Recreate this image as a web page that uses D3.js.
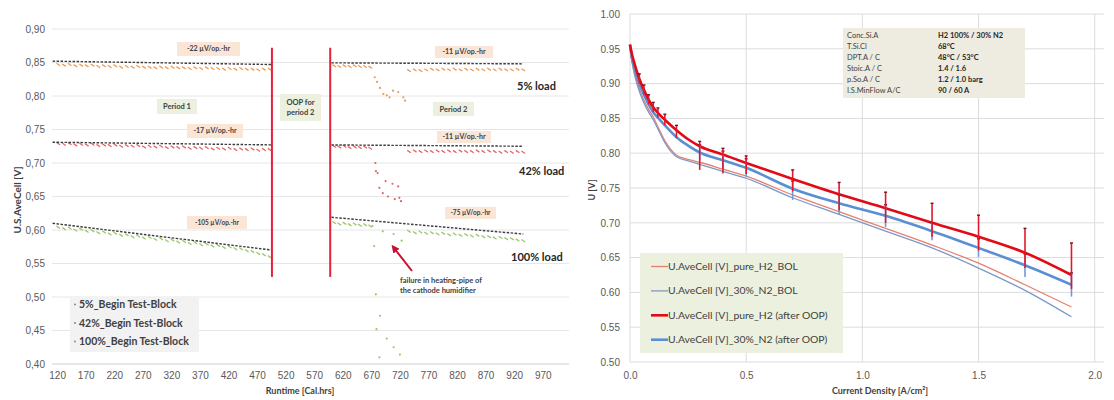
<!DOCTYPE html>
<html>
<head>
<meta charset="utf-8">
<script src="https://cdn.jsdelivr.net/npm/d3@7"></script>
<style>
body { margin: 0; background: #fff; }
svg { font-family: Lato, "Open Sans", sans-serif; }
</style>
</head>
<body>
<svg id="chart" width="1114" height="400"></svg>
<script>
// ---- left chart: runtime test ----
var leftXTicks = [120,170,220,270,320,370,420,470,520,570,620,670,720,770,820,870,920,970];
var leftYTicks = [0.40,0.45,0.50,0.55,0.60,0.65,0.70,0.75,0.80,0.85,0.90];

var p1Hours = [122,132,142,152,162,172,182,192,202,212,222,232,242,252,262,272,282,292,302,312,
               322,332,342,352,362,372,382,392,402,412,422,432,442,452,462,472,482,492];
var p1Load5 = [0.847,0.846,0.847,0.845,0.846,0.845,0.846,0.844,0.845,0.844,
               0.845,0.843,0.844,0.843,0.844,0.843,0.843,0.842,0.843,0.842,
               0.843,0.842,0.842,0.841,0.842,0.841,0.842,0.841,0.841,0.840,
               0.841,0.840,0.841,0.840,0.840,0.839,0.840,0.840];
var p1Load42 = [0.729,0.728,0.729,0.727,0.728,0.727,0.728,0.726,0.727,0.726,
                0.727,0.725,0.726,0.725,0.726,0.724,0.725,0.724,0.725,0.723,
                0.724,0.723,0.724,0.722,0.723,0.722,0.723,0.721,0.722,0.721,
                0.722,0.720,0.721,0.720,0.721,0.719,0.720,0.720];
var p1Load100 = [0.604,0.602,0.603,0.600,0.601,0.598,0.599,0.596,0.597,0.594,
                 0.595,0.592,0.593,0.590,0.591,0.588,0.589,0.586,0.587,0.584,
                 0.585,0.582,0.583,0.580,0.581,0.578,0.579,0.576,0.577,0.574,
                 0.575,0.572,0.572,0.569,0.568,0.565,0.563,0.560];

var p2aHours = [605,614,623,632,641,650,659,668];
var p2aLoad5 = [0.845,0.844,0.845,0.844,0.845,0.844,0.844,0.843];
var p2aLoad42 = [0.725,0.724,0.725,0.723,0.724,0.723,0.724,0.722];
var p2aLoad100 = [0.611,0.609,0.610,0.608,0.609,0.607,0.608,0.606];

var p2bHours = [736,746,756,766,776,786,796,806,816,826,836,846,856,866,876,886,896,906,916,926,936];
var p2bLoad5 = [0.838,0.839,0.838,0.839,0.840,0.839,0.840,0.839,0.840,0.839,0.840,
                0.839,0.840,0.839,0.840,0.839,0.840,0.839,0.839,0.840,0.839];
var p2bLoad42 = [0.717,0.718,0.717,0.718,0.717,0.718,0.717,0.718,0.717,0.718,0.717,
                 0.717,0.718,0.717,0.718,0.717,0.716,0.717,0.716,0.717,0.716];
var p2bLoad100 = [0.598,0.596,0.597,0.595,0.596,0.594,0.595,0.593,0.594,0.592,0.593,
                  0.591,0.592,0.590,0.590,0.588,0.589,0.587,0.587,0.585,0.584];

// points during the humidifier failure
var fail5 = [[676,0.828],[680,0.821],[685,0.812],[691,0.803],[697,0.801],[702,0.798],
             [708,0.808],[717,0.806],[726,0.798],[729,0.793]];
var fail42 = [[677,0.700],[678,0.688],[681,0.685],[695,0.673],[707,0.669],[717,0.665],
              [684,0.663],[690,0.655],[699,0.650],[711,0.646],[722,0.643],[719,0.648]];
var fail100 = [[675,0.576],[678,0.504],[685,0.472],[679,0.452],[697,0.438],[709,0.425],
               [720,0.414],[684,0.410],[690,0.598],[709,0.594],[723,0.584],[672,0.606]];

var trendP1Hours = [112, 496];
var trendP2Hours = [600, 936];
var trendP1 = [[0.852,0.847],[0.731,0.727],[0.610,0.570]];
var trendP2 = [[0.8495,0.848],[0.727,0.725],[0.619,0.594]];

var oopHours = [496, 598];
var oopRange = [0.53, 0.872];

// ---- right chart: polarisation curves ----
var currentDensity = [0,0.01,0.02,0.04,0.06,0.08,0.1,0.12,0.15,0.2,0.25,0.3,0.4,0.5,0.7,0.9,1.1,1.3,1.5,1.7,1.9];
var pureH2After = [0.956,0.940,0.928,0.907,0.891,0.877,0.866,0.858,0.848,0.833,0.820,0.810,0.798,0.786,0.763,0.741,0.721,0.700,0.680,0.657,0.625];
var n2After     = [0.956,0.935,0.922,0.900,0.884,0.870,0.859,0.851,0.840,0.823,0.811,0.801,0.790,0.779,0.749,0.728,0.710,0.688,0.664,0.639,0.611];
var pureH2BOL   = [0.950,0.930,0.915,0.893,0.876,0.863,0.852,0.838,0.818,0.797,0.791,0.787,0.777,0.767,0.740,0.716,0.692,0.668,0.642,0.611,0.579];
var n2BOL       = [0.950,0.928,0.912,0.889,0.872,0.859,0.848,0.835,0.815,0.795,0.789,0.784,0.774,0.764,0.736,0.712,0.688,0.664,0.635,0.603,0.565];

var errCd = [0.04,0.06,0.08,0.1,0.12,0.15,0.2,0.3,0.4,0.5,0.7,0.9,1.1,1.3,1.5,1.7,1.9];
var redErrLow  = [0.900,0.884,0.870,0.859,0.851,0.840,0.822,0.776,0.771,0.770,0.745,0.718,0.700,0.680,0.660,0.635,0.605];
var redErrHigh = [0.914,0.898,0.884,0.873,0.865,0.856,0.840,0.817,0.807,0.796,0.776,0.758,0.744,0.728,0.711,0.692,0.671];
var blueErrCd = [0.3,0.4,0.5,0.7,0.9,1.1,1.3,1.5,1.7,1.9];
var blueErrLow  = [0.790,0.778,0.766,0.733,0.712,0.694,0.675,0.651,0.622,0.594];
var blueErrHigh = [0.812,0.803,0.792,0.760,0.740,0.726,0.700,0.677,0.655,0.628];

var rightXTicks = [0, 0.5, 1.0, 1.5, 2.0];
var rightYTicks = [0.50,0.55,0.60,0.65,0.70,0.75,0.80,0.85,0.90,0.95,1.00];

var infoKeys = ["Conc.Si.A","T.Si.Cl","DPT.A / C","Stoic.A / C","p.So.A / C","I.S.MinFlow A/C"];
var infoVals = ["H2 100% / 30% N2","68°C","48°C / 53°C","1.4 / 1.6","1.2 / 1.0 barg","90 / 60 A"];

var rightLegend = ["U.AveCell [V]_pure_H2_BOL","U.AveCell [V]_30%_N2_BOL",
                   "U.AveCell [V]_pure_H2 (after OOP)","U.AveCell [V]_30%_N2 (after OOP)"];
var leftLegend = ["5%_Begin Test-Block","42%_Begin Test-Block","100%_Begin Test-Block"];

var colOrange = "#ee9a4e", colRed = "#e26464", colGreen = "#9cc46a";
var colThinRed = "#e5806f", colThinBlue = "#7d98c8", colThickRed = "#e20a14", colThickBlue = "#5b8fd3";

var svg = d3.select("#chart");
svg.append("rect").attr("width", 1114).attr("height", 400).attr("fill", "#fff");

// ================= LEFT =================
var xL = d3.scaleLinear().domain([111, 1016]).range([52, 569]);
var yL = d3.scaleLinear().domain([0.40, 0.90]).range([364, 29]);
var left = svg.append("g");

left.selectAll(".gl").data(leftYTicks).enter().append("line")
    .attr("x1", 52).attr("x2", 569)
    .attr("y1", function(d){ return yL(d); }).attr("y2", function(d){ return yL(d); })
    .attr("stroke", function(d){ return d == 0.40 ? "#d0d0d0" : "#e6e6e6"; });

var yAxisL = left.append("g").attr("transform", "translate(52,0)")
    .call(d3.axisLeft(yL).tickValues(leftYTicks).tickSize(0).tickPadding(7)
        .tickFormat(function(d){ return d3.format(".2f")(d).replace(".", ","); }));
var xAxisL = left.append("g").attr("transform", "translate(0,364)")
    .call(d3.axisBottom(xL).tickValues(leftXTicks).tickSize(0).tickPadding(8));
[yAxisL, xAxisL].forEach(function(a){
    a.select(".domain").remove();
    a.selectAll("text").attr("fill", "#595959").style("font-size", "10px");
});

// annotation boxes
function labelBox(g, x, y, w, h, fill, lines, size, bold) {
    g.append("rect").attr("x", x).attr("y", y).attr("width", w).attr("height", h).attr("fill", fill);
    lines.forEach(function(t, i){
        g.append("text").attr("x", x + w/2)
            .attr("y", y + h/2 + (i - (lines.length - 1)/2) * (size + 2) + size*0.35)
            .attr("text-anchor", "middle").attr("fill", "#404040")
            .style("font-size", size + "px").style("font-weight", bold ? "bold" : "normal")
            .text(t);
    });
}
labelBox(left, 177, 42, 63, 14, "#fbe5d6", ["-22 µV/op.-hr"], 7, true);
labelBox(left, 187, 124, 56, 14, "#fbe5d6", ["-17 µV/op.-hr"], 7, true);
labelBox(left, 187, 216, 60, 13, "#fbe5d6", ["-105 µV/op.-hr"], 6.5, true);
labelBox(left, 435, 46, 58, 12, "#fbe5d6", ["-11 µV/op.-hr"], 7, true);
labelBox(left, 437, 131, 54, 12, "#fbe5d6", ["-11 µV/op.-hr"], 7, true);
labelBox(left, 445, 207, 51, 12, "#fbe5d6", ["-75 µV/op.-hr"], 6.5, true);
labelBox(left, 157, 99, 40, 15, "#ebf1de", ["Period 1"], 7.5, true);
labelBox(left, 433, 102, 41, 14, "#ebf1de", ["Period 2"], 7.5, true);
labelBox(left, 280, 94, 41, 27, "#ebf1de", ["OOP for", "period 2"], 7.5, true);

function dashes(hours, vals, color) {
    left.append("g").selectAll("path").data(d3.zip(hours, vals)).enter().append("path")
        .attr("d", function(d){
            var x = xL(d[0]), y = yL(d[1]);
            return "M" + (x - 1.8) + "," + (y - 1.2) + "L" + (x + 1.8) + "," + (y + 1.2);
        })
        .attr("stroke", color).attr("stroke-width", 1.3);
}
dashes(p1Hours, p1Load5, colOrange);
dashes(p1Hours, p1Load42, colRed);
dashes(p1Hours, p1Load100, colGreen);
dashes(p2aHours, p2aLoad5, colOrange);
dashes(p2aHours, p2aLoad42, colRed);
dashes(p2aHours, p2aLoad100, colGreen);
dashes(p2bHours, p2bLoad5, colOrange);
dashes(p2bHours, p2bLoad42, colRed);
dashes(p2bHours, p2bLoad100, colGreen);

function dots(data, color) {
    left.append("g").selectAll("circle").data(data).enter().append("circle")
        .attr("cx", function(d){ return xL(d[0]); }).attr("cy", function(d){ return yL(d[1]); })
        .attr("r", 1.1).attr("fill", color);
}
dots(fail5, colOrange);
dots(fail42, colRed);
dots(fail100, colGreen);

var trendLine = d3.line().x(function(d){ return xL(d[0]); }).y(function(d){ return yL(d[1]); });
trendP1.forEach(function(v){
    left.append("path").attr("d", trendLine(d3.zip(trendP1Hours, v)))
        .attr("fill", "none").attr("stroke", "#3c3c3c").attr("stroke-width", 1.4).attr("stroke-dasharray", "2.5,1.5");
});
trendP2.forEach(function(v){
    left.append("path").attr("d", trendLine(d3.zip(trendP2Hours, v)))
        .attr("fill", "none").attr("stroke", "#3c3c3c").attr("stroke-width", 1.4).attr("stroke-dasharray", "2.5,1.5");
});

left.selectAll(".oop").data(oopHours).enter().append("line")
    .attr("x1", function(d){ return xL(d); }).attr("x2", function(d){ return xL(d); })
    .attr("y1", yL(oopRange[0])).attr("y2", yL(oopRange[1]))
    .attr("stroke", "#e2233a").attr("stroke-width", 2);

// load labels
[["5% load", 517, 90], ["42% load", 519, 175], ["100% load", 511, 261]].forEach(function(t){
    left.append("text").attr("x", t[1]).attr("y", t[2]).attr("fill", "#262626")
        .style("font-size", "11px").style("font-weight", "bold").text(t[0]);
});

// failure arrow
var defs = svg.append("defs");
defs.append("marker").attr("id", "ah").attr("viewBox", "0 0 10 10").attr("refX", 5).attr("refY", 5)
    .attr("markerWidth", 4).attr("markerHeight", 4).attr("orient", "auto-start-reverse")
    .append("path").attr("d", "M0,0L10,5L0,10z").attr("fill", "#c8102e");
left.append("line").attr("x1", 412).attr("y1", 271).attr("x2", 394).attr("y2", 248)
    .attr("stroke", "#c8102e").attr("stroke-width", 2).attr("marker-end", "url(#ah)");
left.append("text").attr("x", 400).attr("y", 283).attr("fill", "#404040").style("font-size", "7.5px")
    .style("font-weight", "bold").text("failure in heating-pipe of");
left.append("text").attr("x", 400).attr("y", 293).attr("fill", "#404040").style("font-size", "7.5px")
    .style("font-weight", "bold").text("the cathode humidifier");

// left legend
left.append("rect").attr("x", 70).attr("y", 297).attr("width", 129).attr("height", 55).attr("fill", "#f2f2f2");
leftLegend.forEach(function(t, i){
    var y = 308 + i * 18.5;
    left.append("circle").attr("cx", 75).attr("cy", y - 3.5).attr("r", 0.9).attr("fill", "#7f7f7f");
    left.append("text").attr("x", 79).attr("y", y).attr("fill", "#404040")
        .style("font-size", "10.5px").style("font-weight", "bold").text(t);
});

left.append("text").attr("x", 300).attr("y", 394).attr("text-anchor", "middle").attr("fill", "#404040")
    .style("font-size", "9px").style("font-weight", "bold").text("Runtime [Cal.hrs]");
left.append("text").attr("transform", "translate(21,200) rotate(-90)").attr("text-anchor", "middle")
    .attr("fill", "#404040").style("font-size", "10px").style("font-weight", "bold").text("U.S.AveCell [V]");

// ================= RIGHT =================
var xR = d3.scaleLinear().domain([0, 2.04]).range([630, 1104]);
var yR = d3.scaleLinear().domain([0.50, 1.00]).range([362, 14]);
var right = svg.append("g");

right.selectAll(".gh").data(rightYTicks).enter().append("line")
    .attr("x1", 630).attr("x2", 1104)
    .attr("y1", function(d){ return yR(d); }).attr("y2", function(d){ return yR(d); })
    .attr("stroke", "#dcdcdc");
right.selectAll(".gv").data(rightXTicks).enter().append("line")
    .attr("x1", function(d){ return xR(d); }).attr("x2", function(d){ return xR(d); })
    .attr("y1", 14).attr("y2", 362)
    .attr("stroke", "#dcdcdc");

var yAxisR = right.append("g").attr("transform", "translate(630,0)")
    .call(d3.axisLeft(yR).tickValues(rightYTicks).tickSize(0).tickPadding(10).tickFormat(d3.format(".2f")));
var xAxisR = right.append("g").attr("transform", "translate(0,362)")
    .call(d3.axisBottom(xR).tickValues(rightXTicks).tickSize(0).tickPadding(10).tickFormat(d3.format(".1f")));
[yAxisR, xAxisR].forEach(function(a){
    a.select(".domain").remove();
    a.selectAll("text").attr("fill", "#595959").style("font-size", "10px");
});

// info box
right.append("rect").attr("x", 843).attr("y", 28).attr("width", 182).attr("height", 70).attr("fill", "#eeece1");
infoKeys.forEach(function(k, i){
    var y = 38 + i * 10.9;
    right.append("text").attr("x", 847).attr("y", y).attr("fill", "#404040").style("font-size", "7.5px").text(k);
    right.append("text").attr("x", 938).attr("y", y).attr("fill", "#262626").style("font-size", "7.5px")
        .style("font-weight", "bold").text(infoVals[i]);
});

var curve = d3.line().curve(d3.curveMonotoneX)
    .x(function(d){ return xR(d[0]); }).y(function(d){ return yR(d[1]); });
var series = [
    {v: pureH2BOL, c: colThinRed, w: 1.3},
    {v: n2BOL, c: colThinBlue, w: 1.3},
    {v: n2After, c: colThickBlue, w: 2.6},
    {v: pureH2After, c: colThickRed, w: 2.6}
];
series.forEach(function(s){
    right.append("path").attr("d", curve(d3.zip(currentDensity, s.v)))
        .attr("fill", "none").attr("stroke", s.c).attr("stroke-width", s.w);
});

function errBars(cds, lo, hi, color) {
    var g = right.append("g");
    cds.forEach(function(c, i){
        g.append("line").attr("x1", xR(c)).attr("x2", xR(c)).attr("y1", yR(lo[i])).attr("y2", yR(hi[i]))
            .attr("stroke", color).attr("stroke-width", 1.6);
        g.append("line").attr("x1", xR(c) - 1.5).attr("x2", xR(c) + 1.5).attr("y1", yR(hi[i])).attr("y2", yR(hi[i]))
            .attr("stroke", "#7a1020").attr("stroke-width", 1.4);
    });
}
errBars(blueErrCd, blueErrLow, blueErrHigh, "#6d9bd6");
errBars(errCd, redErrLow, redErrHigh, "#e2182a");

// right legend
right.append("rect").attr("x", 640).attr("y", 253).attr("width", 203).attr("height", 100).attr("fill", "#ebf1de");
rightLegend.forEach(function(t, i){
    var y = 270 + i * 24.4;
    right.append("line").attr("x1", 651).attr("x2", 668).attr("y1", y - 3.5).attr("y2", y - 3.5)
        .attr("stroke", [colThinRed, colThinBlue, colThickRed, colThickBlue][i])
        .attr("stroke-width", i < 2 ? 1.3 : 2.6);
    right.append("text").attr("x", 668).attr("y", y).attr("fill", "#404040").style("font-size", "10.4px").text(t);
});

right.append("text").attr("x", 880).attr("y", 394).attr("text-anchor", "middle").attr("fill", "#404040")
    .style("font-size", "9px").style("font-weight", "bold").text("Current Density [A/cm²]");
right.append("text").attr("transform", "translate(595,190) rotate(-90)").attr("text-anchor", "middle")
    .attr("fill", "#404040").style("font-size", "9px").style("font-weight", "bold").text("U [V]");
</script>
</body>
</html>
